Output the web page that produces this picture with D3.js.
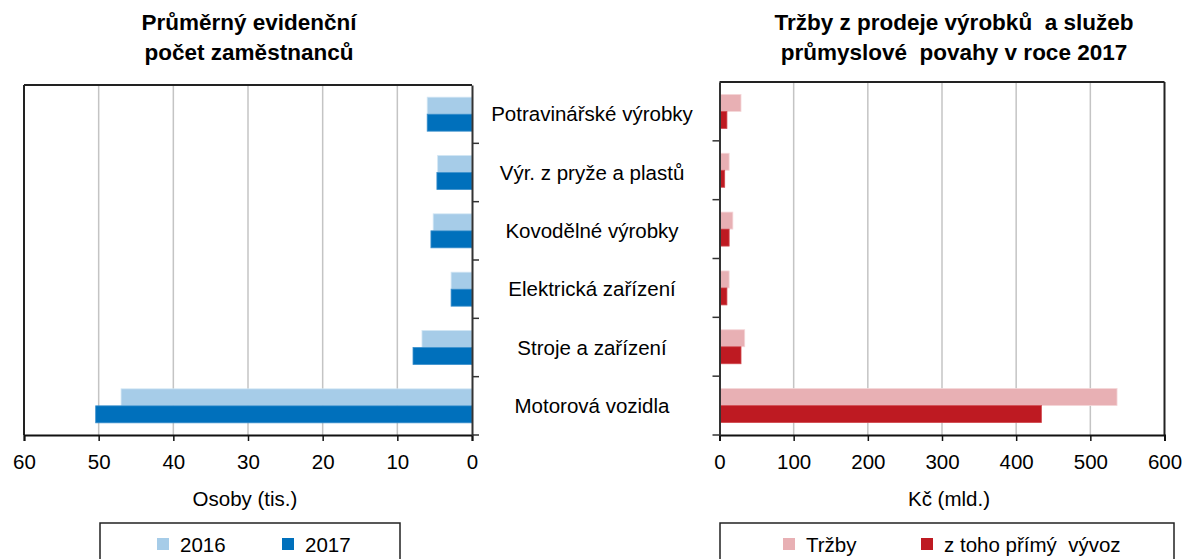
<!DOCTYPE html>
<html><head><meta charset="utf-8">
<script src="https://cdn.jsdelivr.net/npm/d3@7"></script>
<style>body{margin:0;background:#fff}svg{display:block;font-family:"Liberation Sans",Arial,sans-serif}</style>
</head><body><svg id="c" width="1184" height="559"></svg>
<script>
const categories = ["Potravinářské výrobky","Výr. z pryže a plastů","Kovodělné výrobky","Elektrická zařízení","Stroje a zařízení","Motorová vozidla"];
const emp2016 = [6.0, 4.6, 5.2, 2.8, 6.7, 47.0];
const emp2017 = [6.0, 4.7, 5.5, 2.8, 7.9, 50.4];
const sales = [29, 13, 18, 13, 34, 536];
const exportDirect = [10, 7, 13, 10, 29, 434];
const leftTicks = [0,10,20,30,40,50,60];
const rightTicks = [0,100,200,300,400,500,600];

const svg = d3.select("#c");
const FS = 20.5;

function panel(o){
  const g = svg.append("g");
  const x = d3.scaleLinear().domain([0, o.max]).range(o.xr);
  const y = d3.scaleBand().domain(categories).range([o.top, o.bottom]);
  g.selectAll(".grid").data(o.ticks.filter(t=>t!==0 && t!==o.max)).join("line")
    .attr("x1",d=>x(d)).attr("x2",d=>x(d)).attr("y1",o.top).attr("y2",o.bottom)
    .attr("stroke","#c4c4c4").attr("stroke-width",1.5);
  const bh = 17;
  const series = [[o.s1,o.c1],[o.s2,o.c2]];
  series.forEach(([vals,col],i)=>{
    g.selectAll(null).data(vals).join("rect")
      .attr("x",d=>Math.min(x(0),x(d)))
      .attr("width",d=>Math.abs(x(d)-x(0)))
      .attr("y",(d,j)=>y(categories[j]) + y.bandwidth()/2 - bh + i*bh)
      .attr("height",bh)
      .attr("fill",col).attr("stroke",o.strokes[i]).attr("stroke-width",0.8);
  });
  const x0=x(0), xm=x(o.max);
  const xl=Math.min(x0,xm), xrr=Math.max(x0,xm);
  g.append("line").attr("x1",xl).attr("x2",xrr).attr("y1",o.top).attr("y2",o.top).attr("stroke","#222").attr("stroke-width",2);
  g.append("line").attr("x1",xm).attr("x2",xm).attr("y1",o.top).attr("y2",o.bottom).attr("stroke","#222").attr("stroke-width",2);
  const ax = d3.axisBottom(x).tickValues(o.ticks).tickSize(6).tickPadding(13).tickFormat(d3.format("d"));
  const axg = g.append("g").attr("transform",`translate(0,${o.bottom})`).call(ax);
  axg.select(".domain").attr("stroke","#111").attr("stroke-width",2);
  axg.selectAll(".tick line").attr("stroke","#111").attr("stroke-width",1.5);
  axg.selectAll(".tick text").attr("font-size",FS).attr("fill","#000").attr("font-family","Liberation Sans, Arial, sans-serif");
  const cax = (o.side==="right"? d3.axisRight(y) : d3.axisLeft(y)).tickValues([]).tickSizeOuter(0);
  const cg = g.append("g").attr("transform",`translate(${x0},0)`).call(cax);
  cg.select(".domain").attr("stroke","#333").attr("stroke-width",2);
  const dir = o.side==="right"?1:-1;
  g.selectAll(null).data(categories).join("line")
    .attr("x1",x0).attr("x2",x0+dir*7)
    .attr("y1",d=>y(d)+y.bandwidth()).attr("y2",d=>y(d)+y.bandwidth())
    .attr("stroke","#333").attr("stroke-width",1.5);
  g.append("text").attr("x",o.axTitleX).attr("y",506).attr("text-anchor","middle").attr("font-size",FS).text(o.axTitle);
  const t = g.append("text").attr("text-anchor","middle").attr("font-size",22.5).attr("font-weight","bold")
    .attr("xml:space","preserve").style("white-space","pre");
  o.title.forEach((ln,i)=>t.append("tspan").attr("x",o.titleX).attr("y",30+i*30).text(ln));
  g.append("rect").attr("x",o.leg[0]).attr("y",523).attr("width",o.leg[1]-o.leg[0]).attr("height",60)
    .attr("fill","none").attr("stroke","#222").attr("stroke-width",1.5);
  o.legItems.forEach(([lab,col,sx])=>{
    g.append("rect").attr("x",sx).attr("y",538).attr("width",12).attr("height",12).attr("fill",col);
    g.append("text").attr("x",sx+23).attr("y",552).attr("font-size",FS).style("white-space","pre").text(lab);
  });
  return y;
}

const yL = panel({max:60, xr:[472,24], top:85, bottom:435, ticks:leftTicks, s1:emp2016, s2:emp2017,
  c1:"#a6cce8", c2:"#0070bc", strokes:["#d2e6f4","#3a8fcc"], side:"right",
  axTitle:"Osoby (tis.)", axTitleX:245, title:["Průměrný evidenční","počet zaměstnanců"], titleX:249,
  leg:[100,400], legItems:[["2016","#a6cce8",157],["2017","#0070bc",282]]});

panel({max:600, xr:[719.5,1164.5], top:82, bottom:435, ticks:rightTicks, s1:sales, s2:exportDirect,
  c1:"#e8b0b4", c2:"#be1a22", strokes:["#f4d6d8","#d0484e"], side:"left",
  axTitle:"Kč (mld.)", axTitleX:949, title:["Tržby z prodeje výrobků  a služeb","průmyslové  povahy v roce 2017"], titleX:954,
  leg:[720,1174], legItems:[["Tržby","#e8b0b4",783],["z toho přímý  vývoz","#be1a22",921]]});

svg.selectAll(".cat").data(categories).join("text")
  .attr("x",592).attr("y",d=>yL(d)+yL.bandwidth()/2+7).attr("text-anchor","middle")
  .attr("font-size",FS).text(d=>d);
</script></body></html>
